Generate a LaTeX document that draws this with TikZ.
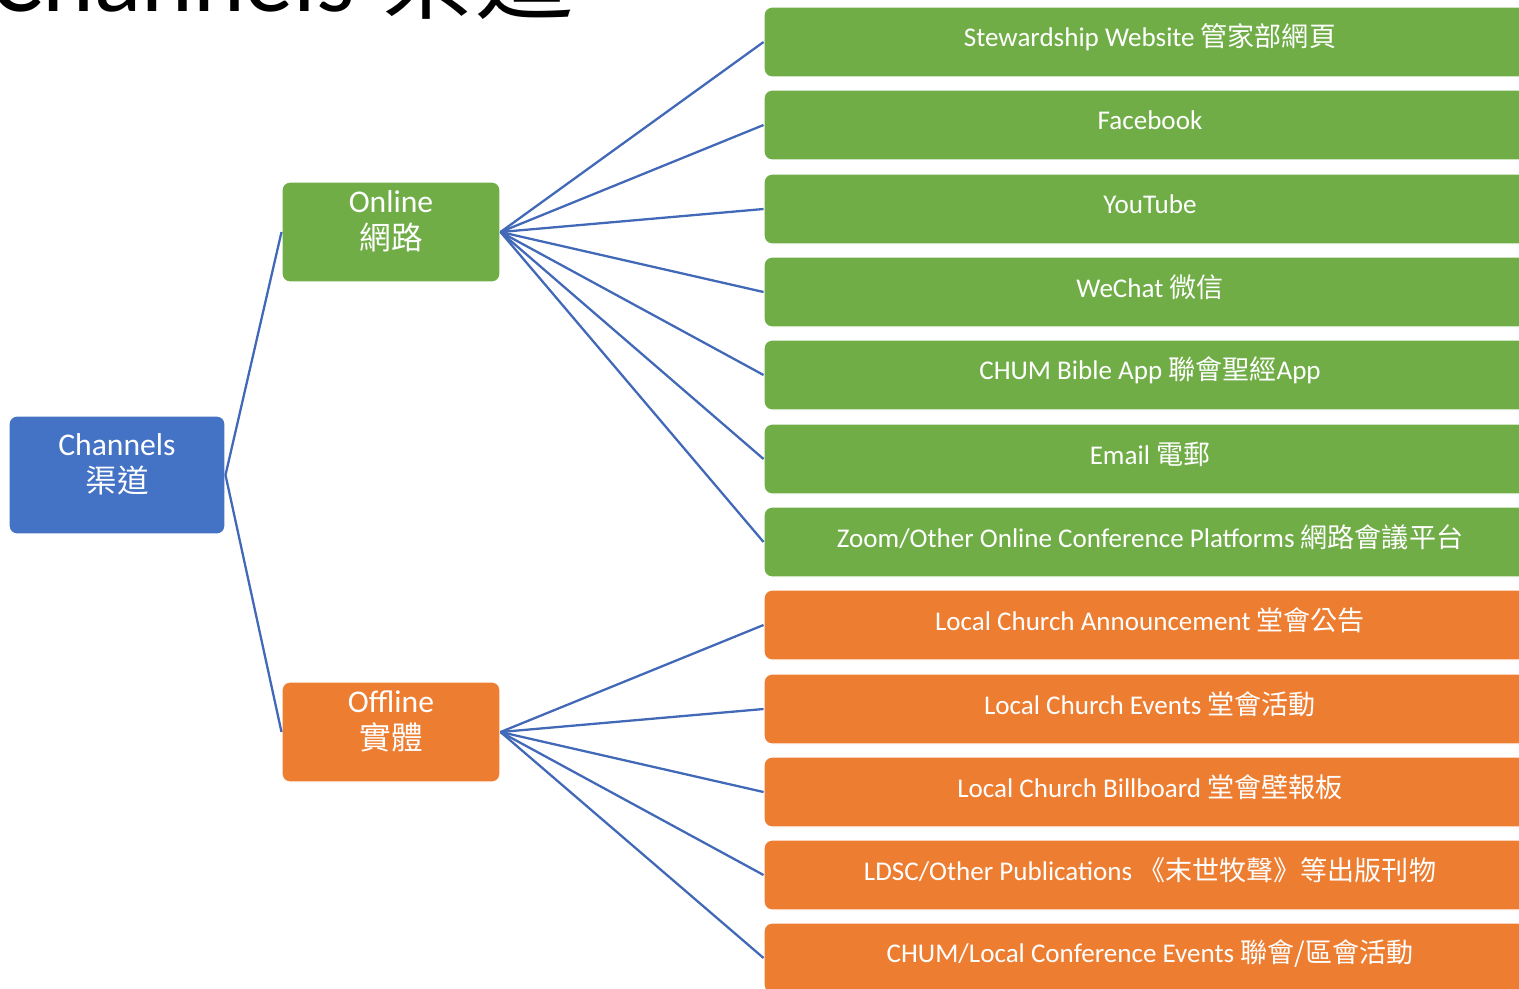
\documentclass[tikz,border=0pt]{standalone}
\usepackage{fontspec}
\setmainfont{Carlito}
\newfontfamily\cjk{Noto Sans CJK TC}
\definecolor{chblue}{HTML}{4472C4}
\definecolor{ongreen}{HTML}{70AD47}
\definecolor{offorange}{HTML}{ED7D31}
\definecolor{linkblue}{HTML}{4268B8}

% text sits a little above the middle of its box
\newcommand{\lift}[2]{\raisebox{#1}[\height][\depth]{#2}}
\newcommand{\twolines}[2]{\lift{0.16cm}{\begin{tabular}{@{}c@{}}#1\\#2\end{tabular}}}

\tikzset{
  box/.style={rounded corners=0.16cm, draw=white, line width=0.6pt, text=white, inner sep=0pt},
  root/.style={box, fill=chblue, minimum width=4.32cm, minimum height=2.36cm, font=\fontsize{18}{20}\selectfont},
  branch/.style={box, minimum width=4.36cm, minimum height=2cm, font=\fontsize{18}{20}\selectfont},
  leaf/.style={box, minimum width=15.44cm, minimum height=1.4cm, font=\fontsize{15.4}{17}\selectfont},
  link/.style={linkblue, line width=1.3pt},
}

\begin{document}
\begin{tikzpicture}[x=0.02cm, y=-0.02cm]
\useasboundingbox (0,0) rectangle (1519,988);
\clip (0,0) rectangle (1519,988);

% title, cut by the top edge
\node[anchor=base west, inner sep=0pt, font=\fontsize{56}{60}\selectfont] (title) at (-10,11) {Channels {\cjk 渠道}};

\node[root] (channels) at (117,475) {\twolines{Channels}{\cjk 渠道}};
\node[branch, fill=ongreen] (online) at (391,232) {\twolines{Online}{\cjk 網路}};
\node[branch, fill=offorange] (offline) at (391,732) {\twolines{Offline}{\cjk 實體}};

% online channels
\node[leaf, fill=ongreen] (website) at (1150,42) {\lift{0.09cm}{Stewardship Website {\cjk 管家部網頁}}};
\node[leaf, fill=ongreen] (facebook) at (1150,125) {\lift{0.09cm}{Facebook}};
\node[leaf, fill=ongreen] (youtube) at (1150,209) {\lift{0.09cm}{YouTube}};
\node[leaf, fill=ongreen] (wechat) at (1150,292) {\lift{0.09cm}{WeChat {\cjk 微信}}};
\node[leaf, fill=ongreen] (bibleapp) at (1150,375) {\lift{0.09cm}{CHUM Bible App {\cjk 聯會聖經}App}};
\node[leaf, fill=ongreen] (email) at (1150,459) {\lift{0.09cm}{Email {\cjk 電郵}}};
\node[leaf, fill=ongreen] (zoom) at (1150,542) {\lift{0.09cm}{Zoom/Other Online Conference Platforms {\cjk 網路會議平台}}};

% offline channels
\node[leaf, fill=offorange] (announce) at (1150,625) {\lift{0.09cm}{Local Church Announcement {\cjk 堂會公告}}};
\node[leaf, fill=offorange] (events) at (1150,709) {\lift{0.09cm}{Local Church Events {\cjk 堂會活動}}};
\node[leaf, fill=offorange] (billboard) at (1150,792) {\lift{0.09cm}{Local Church Billboard {\cjk 堂會壁報板}}};
\node[leaf, fill=offorange] (publish) at (1150,875) {\lift{0.09cm}{LDSC/Other Publications {\cjk 《末世牧聲》等出版刊物}}};
\node[leaf, fill=offorange] (confevents) at (1150,958) {\lift{0.09cm}{CHUM/Local Conference Events {\cjk 聯會/區會活動}}};

\draw[link] (channels.east) -- (online.west);
\draw[link] (channels.east) -- (offline.west);

\draw[link] (online.east) -- (website.west);
\draw[link] (online.east) -- (facebook.west);
\draw[link] (online.east) -- (youtube.west);
\draw[link] (online.east) -- (wechat.west);
\draw[link] (online.east) -- (bibleapp.west);
\draw[link] (online.east) -- (email.west);
\draw[link] (online.east) -- (zoom.west);

\draw[link] (offline.east) -- (announce.west);
\draw[link] (offline.east) -- (events.west);
\draw[link] (offline.east) -- (billboard.west);
\draw[link] (offline.east) -- (publish.west);
\draw[link] (offline.east) -- (confevents.west);
\end{tikzpicture}
\end{document}
